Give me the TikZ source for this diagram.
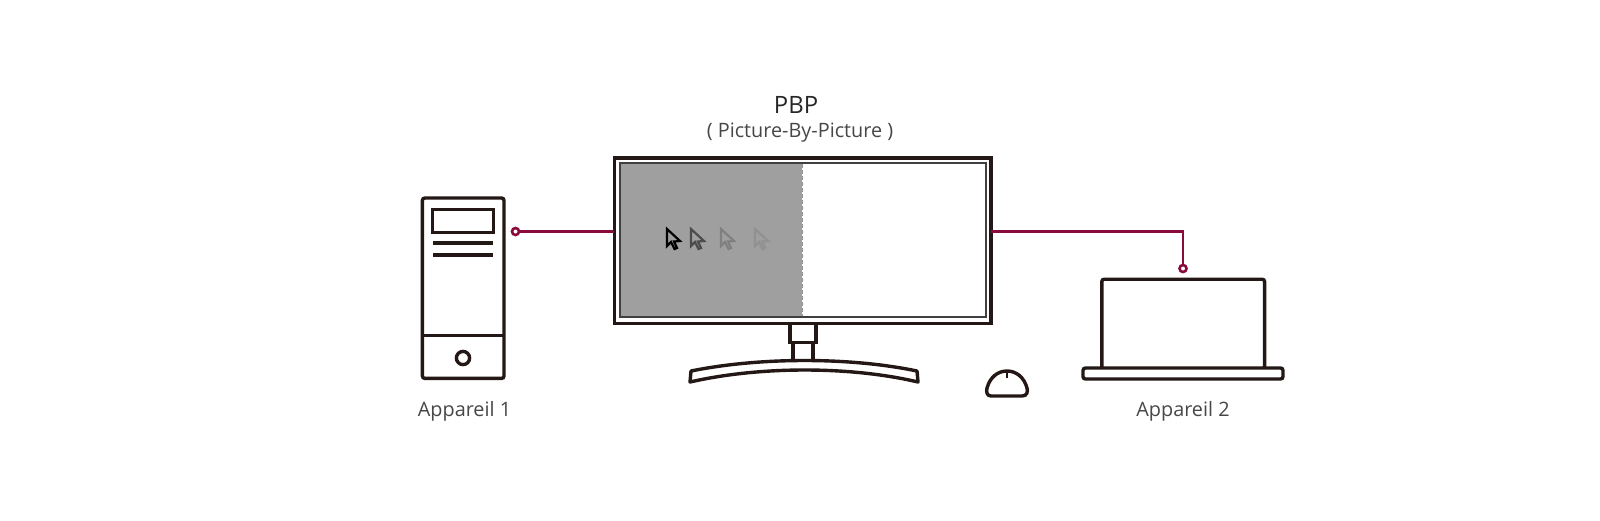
\documentclass[tikz,border=0pt]{standalone}
\usepackage{fontspec}
\setmainfont{Open Sans}
\usetikzlibrary{arrows.meta,calc}
\definecolor{darkline}{HTML}{231815}
\definecolor{cable}{HTML}{8A0A3C}
\definecolor{screengray}{HTML}{9F9F9F}
\tikzset{
  device/.style={rectangle,draw=darkline,line width=.85mm,inner sep=0,outer sep=0,fill=white},
  plug/.style={circle,draw=cable,line width=.65mm,fill=white,inner sep=0,minimum size=1.75mm},
  cableline/.style={draw=cable,line width=.7mm},
  caption/.style={text=black!72,inner sep=0,font=\fontsize{14.1}{16}\selectfont}
}
\begin{document}
\begin{tikzpicture}[x=.25mm,y=-.25mm]
\useasboundingbox[fill=white] (0,0) rectangle (1600,520);

% Nodes
\node[device,minimum width=6.5mm,minimum height=5mm] (neck) at (803,332.5) {};
\node[device,minimum width=5mm,minimum height=4.5mm,below=0pt] (post) at (neck.south) {};
\node[device,minimum width=94.2mm,minimum height=41.4mm] (monitor) at (802.7,240.7) {};
\node[rectangle,draw=black!75,line width=.5mm,inner sep=0,outer sep=0,minimum width=91.5mm,minimum height=38.5mm] (screen) at (803,240) {};
\node[device,rounded corners=.6mm,minimum width=20.4mm,minimum height=45.1mm] (tower) at (463.2,288.2) {};
\node[device,minimum width=15.2mm,minimum height=5.8mm] (panel) at (463,221) {};
\node[device,circle,minimum size=3.3mm] (button) at (463,358) {};
\node[device,rounded corners=.6mm,minimum width=40.7mm,minimum height=22.4mm] (laptop) at (1183.2,324) {};
\node[plug] (dot1) at (515.5,231.5) {};
\node[plug] (dot2) at (1183,268.5) {};

\node[inner sep=0,text=black!85,font=\fontsize{17}{18}\selectfont] (title) at (796,105) {PBP};
\node[caption] (subtitle) at (800,133) {( Picture-By-Picture )};
\node[caption] (label1) at (464.5,411) {Appareil 1};
\node[caption] (label2) at (1183,411) {Appareil 2};

% screen parts
\fill[screengray] (screen.north west) rectangle (802,315.5);
\draw[black!75,line width=.5mm] (screen.north west) rectangle (screen.south east);
\draw[black!42,line width=.25mm,dash pattern=on 1mm off .5mm] (802,164) -- (802,316);

% cursors
\foreach \x/\c in {667/black,691/black!70,721/black!50,755/black!43}{
\draw[\c,line width=.55mm,line join=miter,shift={(\x,229)}] (0,0) -- (0,17) -- (4,13) -- (7.5,20) -- (10,19) -- (7,12.5) -- (13,12) -- cycle;
}

% tower parts
\draw[darkline,line width=.85mm] (tower.west |- button.north) ++(0,-16) -- ++(81,0);
\draw[darkline,line width=.8mm] (433,243) -- (493,243);
\draw[darkline,line width=.8mm] (433,255) -- (493,255);

% base of laptop and stand
\draw[device,rounded corners=.6mm] (1083,368) -- (1083,379) -- (1283,379) -- (1283,368) -- cycle;
\draw[device,line join=round] (691,371) .. controls (760,357) and (850,357) .. (917,371) -- (918,382) .. controls (850,366) and (760,366) .. (690,382) -- cycle;
\draw[device] (991,396) -- (1022,396) .. controls (1027,396) and (1028,392) .. (1027,388) .. controls (1024,377) and (1016,371) .. (1007,371) .. controls (998,371) and (990,377) .. (987,388) .. controls (986,392) and (987,396) .. (991,396) -- cycle;
\draw[darkline,line width=.7mm] (1007,371) -- (1007,378);

%arcs
\path (dot1) edge[cableline] (dot1 -| monitor.west);
\draw[cableline] (dot1 -| monitor.east) -| (dot2);

\end{tikzpicture}
\end{document}
